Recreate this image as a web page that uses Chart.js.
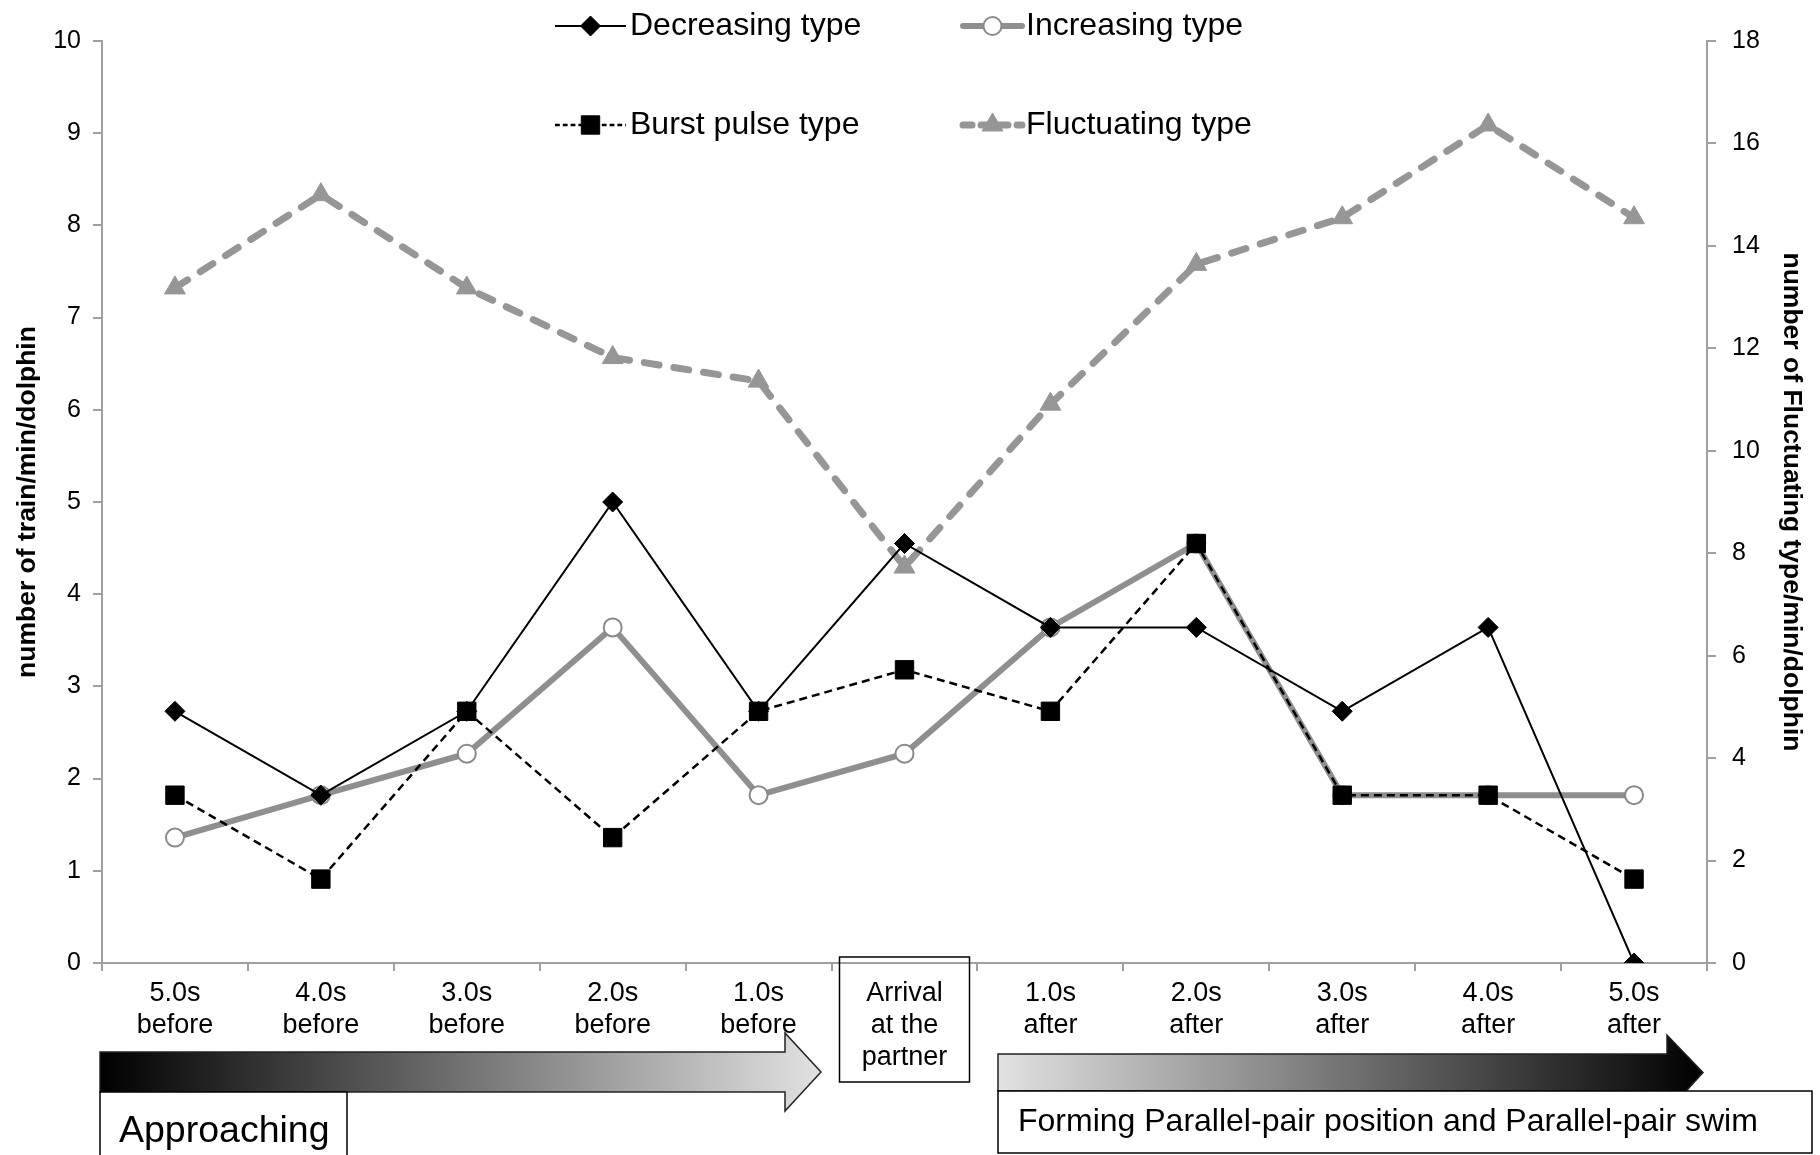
<!DOCTYPE html>
<html>
<head>
<meta charset="utf-8">
<script src="https://cdn.jsdelivr.net/npm/chart.js@4.4.0/dist/chart.umd.min.js"></script>
<style>
  html, body { margin: 0; padding: 0; background: #fff; }
  #wrap { width: 1820px; height: 1155px; position: relative; }
</style>
</head>
<body>
<div id="wrap"><canvas id="dolphinChart" width="1820" height="1155"></canvas></div>
<script>
// categories (seconds relative to arrival at partner)
var categories = [
  ["5.0s", "before"], ["4.0s", "before"], ["3.0s", "before"], ["2.0s", "before"], ["1.0s", "before"],
  ["Arrival", "at the", "partner"],
  ["1.0s", "after"], ["2.0s", "after"], ["3.0s", "after"], ["4.0s", "after"], ["5.0s", "after"]
];

// left axis series (train/min/dolphin)
var decreasing = [2.73, 1.82, 2.73, 5.0, 2.73, 4.55, 3.64, 3.64, 2.73, 3.64, 0];
var increasing = [1.36, 1.82, 2.27, 3.64, 1.82, 2.27, 3.64, 4.55, 1.82, 1.82, 1.82];
var burstPulse = [1.82, 0.91, 2.73, 1.36, 2.73, 3.18, 2.73, 4.55, 1.82, 1.82, 0.91];
// right axis series
var fluctuating = [13.18, 15.0, 13.18, 11.82, 11.36, 7.73, 10.91, 13.64, 14.55, 16.36, 14.55];

var leftTicks = [0, 1, 2, 3, 4, 5, 6, 7, 8, 9, 10];
var rightTicks = [0, 2, 4, 6, 8, 10, 12, 14, 16, 18];

var NARROW = "'Liberation Sans Narrow', 'Arial Narrow', 'Liberation Sans', Arial, sans-serif";
var AXISGRAY = "#a0a0a0";

var datasets = [
  {
    label: "Decreasing type", data: decreasing, yAxisID: "y",
    borderColor: "#000", backgroundColor: "#000", borderWidth: 2,
    pointStyle: "rectRot", pointRadius: 10, pointBorderWidth: 1, pointBackgroundColor: "#000"
  },
  {
    label: "Burst pulse type", data: burstPulse, yAxisID: "y",
    borderColor: "#000", backgroundColor: "#000", borderWidth: 2.5, borderDash: [8, 5],
    pointStyle: "rect", pointRadius: 13, pointBorderWidth: 1, pointBackgroundColor: "#000"
  },
  {
    label: "Increasing type", data: increasing, yAxisID: "y",
    borderColor: "#8f8f8f", backgroundColor: "#fff", borderWidth: 6,
    pointStyle: "circle", pointRadius: 9, pointBorderWidth: 2,
    pointBorderColor: "#8a8a8a", pointBackgroundColor: "#fff"
  },
  {
    label: "Fluctuating type", data: fluctuating, yAxisID: "y1",
    borderColor: "#969696", backgroundColor: "#969696", borderWidth: 7, borderDash: [15, 15],
    borderCapStyle: "round",
    pointStyle: "triangle", pointRadius: 12, pointBorderWidth: 1,
    pointBorderColor: "#969696", pointBackgroundColor: "#969696"
  }
];

// legend slots: [dataset index, line start x, text x, y]
var legendSlots = [
  [0, 555, 630, 26],
  [2, 963, 1026, 26],
  [1, 555, 630, 125],
  [3, 963, 1026, 125]
];

function drawArrow(ctx, x0, x1, bodyTop, bodyBot, headTop, headBot, tip, c0, c1) {
  var midY = (bodyTop + bodyBot) / 2;
  var g = ctx.createLinearGradient(x0, 0, tip, 0);
  g.addColorStop(0, c0);
  g.addColorStop(1, c1);
  ctx.beginPath();
  ctx.moveTo(x0, bodyTop);
  ctx.lineTo(x1, bodyTop);
  ctx.lineTo(x1, headTop);
  ctx.lineTo(tip, midY);
  ctx.lineTo(x1, headBot);
  ctx.lineTo(x1, bodyBot);
  ctx.lineTo(x0, bodyBot);
  ctx.closePath();
  ctx.fillStyle = g;
  ctx.fill();
  ctx.strokeStyle = "#222";
  ctx.lineWidth = 1.5;
  ctx.stroke();
}

function boxText(ctx, x, y, w, h, text, size, tx) {
  ctx.fillStyle = "#fff";
  ctx.fillRect(x, y, w, h);
  ctx.strokeStyle = "#000";
  ctx.lineWidth = 1.5;
  ctx.strokeRect(x, y, w, h);
  if (text) {
    ctx.fillStyle = "#000";
    ctx.font = size + "px " + NARROW;
    ctx.textAlign = "left";
    ctx.textBaseline = "middle";
    ctx.fillText(text, tx, y + h / 2);
  }
}

var decorPlugin = {
  id: "decor",
  beforeDatasetsDraw: function(chart) {
    // box round the arrival label
    var ctx = chart.ctx;
    var xs = chart.scales.x;
    var cx = xs.getPixelForTick(5);
    ctx.save();
    ctx.strokeStyle = "#000";
    ctx.lineWidth = 1.5;
    ctx.strokeRect(cx - 65, 957, 130, 125);
    ctx.restore();
  },
  afterDraw: function(chart) {
    var ctx = chart.ctx;
    ctx.save();
    // legend drawn inside the plot
    legendSlots.forEach(function(s) {
      var ds = chart.data.datasets[s[0]];
      var x0 = s[1], x1 = s[2] - 4, y = s[3];
      ctx.save();
      ctx.strokeStyle = ds.borderColor;
      ctx.lineWidth = ds.borderWidth;
      ctx.lineCap = ds.borderWidth > 3 ? "round" : "butt";
      ctx.setLineDash(ds.borderDash ? ds.borderDash.map(function(v) { return v * 0.6; }) : []);
      ctx.beginPath();
      ctx.moveTo(x0, y);
      ctx.lineTo(x1, y);
      ctx.stroke();
      ctx.restore();
      ctx.save();
      ctx.fillStyle = ds.pointBackgroundColor;
      ctx.strokeStyle = ds.pointBorderColor || ds.borderColor;
      ctx.lineWidth = ds.pointBorderWidth;
      Chart.helpers.drawPoint(ctx, {
        pointStyle: ds.pointStyle, rotation: 0, borderWidth: ds.pointBorderWidth, radius: ds.pointRadius
      }, (x0 + x1) / 2, y);
      ctx.restore();
      ctx.fillStyle = "#000";
      ctx.font = "32px " + NARROW;
      ctx.textAlign = "left";
      ctx.textBaseline = "middle";
      ctx.fillText(ds.label, s[2], y);
    });

    // phase arrows and their captions
    drawArrow(ctx, 100, 785, 1052, 1092, 1033, 1111, 821, "#000", "#e2e2e2");
    drawArrow(ctx, 998, 1667, 1054, 1091, 1035, 1112, 1703, "#e2e2e2", "#000");
    boxText(ctx, 100, 1092, 247, 80, "Approaching", 37.5, 119);
    boxText(ctx, 998, 1091, 814, 62, "Forming Parallel-pair position and Parallel-pair swim", 32, 1018);
    ctx.restore();
  }
};

var ctx = document.getElementById("dolphinChart").getContext("2d");
var dolphinChart = new Chart(ctx, {
  type: "line",
  data: { labels: categories, datasets: datasets },
  options: {
    responsive: false,
    animation: false,
    devicePixelRatio: 1,
    layout: { padding: { top: 41, left: 0, right: 0, bottom: 0 } },
    plugins: { legend: { display: false }, tooltip: { enabled: false } },
    elements: { line: { tension: 0, fill: false } },
    scales: {
      x: {
        offset: true,
        grid: { display: true, drawOnChartArea: false, color: AXISGRAY, lineWidth: 2, tickLength: 8, offset: true },
        border: { color: AXISGRAY, width: 2 },
        ticks: {
          color: "#000", maxRotation: 0, autoSkip: false, padding: 6,
          font: { family: NARROW, size: 27, lineHeight: 1.2 }
        },
        afterFit: function(scale) { scale.height = 192; }
      },
      y: {
        position: "left", min: 0, max: 10,
        afterBuildTicks: function(scale) { scale.ticks = leftTicks.map(function(v) { return {value: v}; }); },
        grid: { display: true, drawOnChartArea: false, color: AXISGRAY, lineWidth: 2, tickLength: 9 },
        border: { color: AXISGRAY, width: 2 },
        ticks: { color: "#000", padding: 12, font: { family: "'Liberation Sans', Arial, sans-serif", size: 25 } },
        title: {
          display: true, text: "number of train/min/dolphin", color: "#000",
          padding: { top: 12, bottom: 0 },
          font: { family: NARROW, size: 26.5, weight: "bold" }
        },
        afterFit: function(scale) { scale.width = 102; }
      },
      y1: {
        position: "right", min: 0, max: 18,
        afterBuildTicks: function(scale) { scale.ticks = rightTicks.map(function(v) { return {value: v}; }); },
        grid: { display: true, drawOnChartArea: false, color: AXISGRAY, lineWidth: 2, tickLength: 9 },
        border: { color: AXISGRAY, width: 2 },
        ticks: { color: "#000", padding: 16, font: { family: "'Liberation Sans', Arial, sans-serif", size: 25 } },
        title: {
          display: true, text: "number of Fluctuating type/min/dolphin", color: "#000",
          padding: { top: 13, bottom: 0 },
          font: { family: NARROW, size: 26.5, weight: "bold" }
        },
        afterFit: function(scale) { scale.width = 113; }
      }
    }
  },
  plugins: [decorPlugin]
});
</script>
</body>
</html>
